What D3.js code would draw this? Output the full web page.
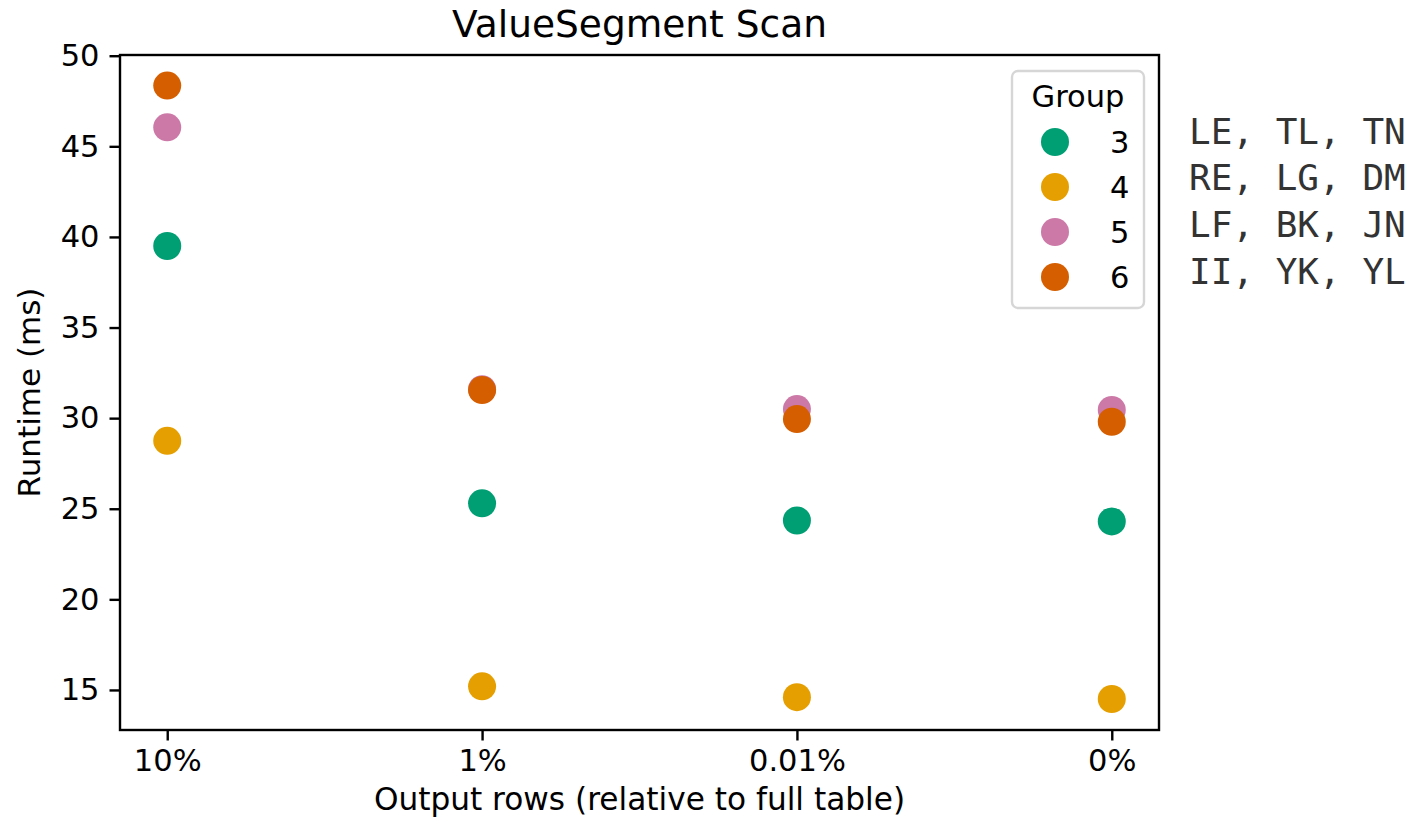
<!DOCTYPE html>
<html>
<head>
<meta charset="utf-8">
<script src="https://cdn.jsdelivr.net/npm/d3@7"></script>
<style>
  body { margin: 0; background: #fff; }
  svg text { font-family: "DejaVu Sans", sans-serif; }
</style>
</head>
<body>
<svg id="chart" width="1424" height="826"></svg>
<script>
// chart data
const categories = ['10%', '1%', '0.01%', '0%'];
const groups = ['3', '4', '5', '6'];
const group3 = [39.5, 25.3, 24.35, 24.3];
const group4 = [28.75, 15.2, 14.6, 14.5];
const group5 = [46.05, 31.6, 30.5, 30.45];
const group6 = [48.35, 31.55, 29.95, 29.8];
const groupColors = ['#009E73', '#E69F00', '#CC79A7', '#D55E00'];
const yTicks = [15, 20, 25, 30, 35, 40, 45, 50];
const sideNotes = ['LE, TL, TN', 'RE, LG, DM', 'LF, BK, JN', 'II, YK, YL'];

const series = [group3, group4, group5, group6];

const svg = d3.select('#chart');
// plot area edges (names avoid clashing with window.top)
const plotLeft = 120, plotRight = 1159, plotTop = 55, plotBottom = 730;

// x is category index, padded like matplotlib margins
const x = d3.scaleLinear().domain([-0.15, categories.length - 1 + 0.15]).range([plotLeft, plotRight]);
const y = d3.scaleLinear().domain([12.79, 50.04]).range([plotBottom, plotTop]);

// axes
const xAxis = svg.append('g')
	.attr('transform', 'translate(0,' + plotBottom + ')')
	.call(d3.axisBottom(x)
		.tickValues(d3.range(categories.length))
		.tickFormat(function(i) { return categories[i]; })
		.tickSize(10.5)
		.tickPadding(9)
		.tickSizeOuter(0));

const yAxis = svg.append('g')
	.attr('transform', 'translate(' + plotLeft + ',0)')
	.call(d3.axisLeft(y)
		.tickValues(yTicks)
		.tickSize(10.5)
		.tickPadding(10)
		.tickSizeOuter(0));

[xAxis, yAxis].forEach(function(ax) {
	ax.select('.domain').remove();
	ax.selectAll('.tick line').attr('stroke', '#000').attr('stroke-width', 2.4);
	ax.selectAll('.tick text').attr('fill', '#000').style('font-size', '30.5px');
});

// frame
svg.append('rect')
	.attr('x', plotLeft).attr('y', plotTop)
	.attr('width', plotRight - plotLeft).attr('height', plotBottom - plotTop)
	.attr('fill', 'none').attr('stroke', '#000').attr('stroke-width', 2.4);

// points, drawn group by group so later groups sit on top
series.forEach(function(vals, gi) {
	svg.append('g').selectAll('circle')
		.data(vals)
		.join('circle')
		.attr('cx', function(d, i) { return x(i); })
		.attr('cy', function(d) { return y(d); })
		.attr('r', 14)
		.attr('fill', groupColors[gi]);
});

// title and axis labels
svg.append('text')
	.attr('x', (plotLeft + plotRight) / 2).attr('y', 37)
	.attr('text-anchor', 'middle')
	.style('font-size', '37.5px')
	.text('ValueSegment Scan');

svg.append('text')
	.attr('x', (plotLeft + plotRight) / 2).attr('y', 810)
	.attr('text-anchor', 'middle')
	.style('font-size', '31.2px')
	.text('Output rows (relative to full table)');

svg.append('text')
	.attr('transform', 'translate(40,' + ((plotTop + plotBottom) / 2) + ') rotate(-90)')
	.attr('text-anchor', 'middle')
	.style('font-size', '31px')
	.text('Runtime (ms)');

// legend
const legend = svg.append('g');
legend.append('rect')
	.attr('x', 1012).attr('y', 71)
	.attr('width', 132).attr('height', 237)
	.attr('rx', 6)
	.attr('fill', '#fff').attr('fill-opacity', 0.8)
	.attr('stroke', '#d6d6d6').attr('stroke-width', 2.4);

legend.append('text')
	.attr('x', 1078).attr('y', 107)
	.attr('text-anchor', 'middle')
	.style('font-size', '30.5px')
	.text('Group');

groups.forEach(function(g, i) {
	const ly = 142 + i * 45;
	legend.append('circle')
		.attr('cx', 1055).attr('cy', ly).attr('r', 14)
		.attr('fill', groupColors[i]);
	legend.append('text')
		.attr('x', 1110).attr('y', ly + 10.5)
		.style('font-size', '30.5px')
		.text(g);
});

// side notes in monospace
svg.append('g').selectAll('text')
	.data(sideNotes)
	.join('text')
	.attr('x', 1189)
	.attr('y', function(d, i) { return 143.5 + i * 46.7; })
	.attr('fill', '#333')
	.style('font-family', '"DejaVu Sans Mono", monospace')
	.style('font-size', '36px')
	.style('white-space', 'pre')
	.text(function(d) { return d; });
</script>
</body>
</html>
